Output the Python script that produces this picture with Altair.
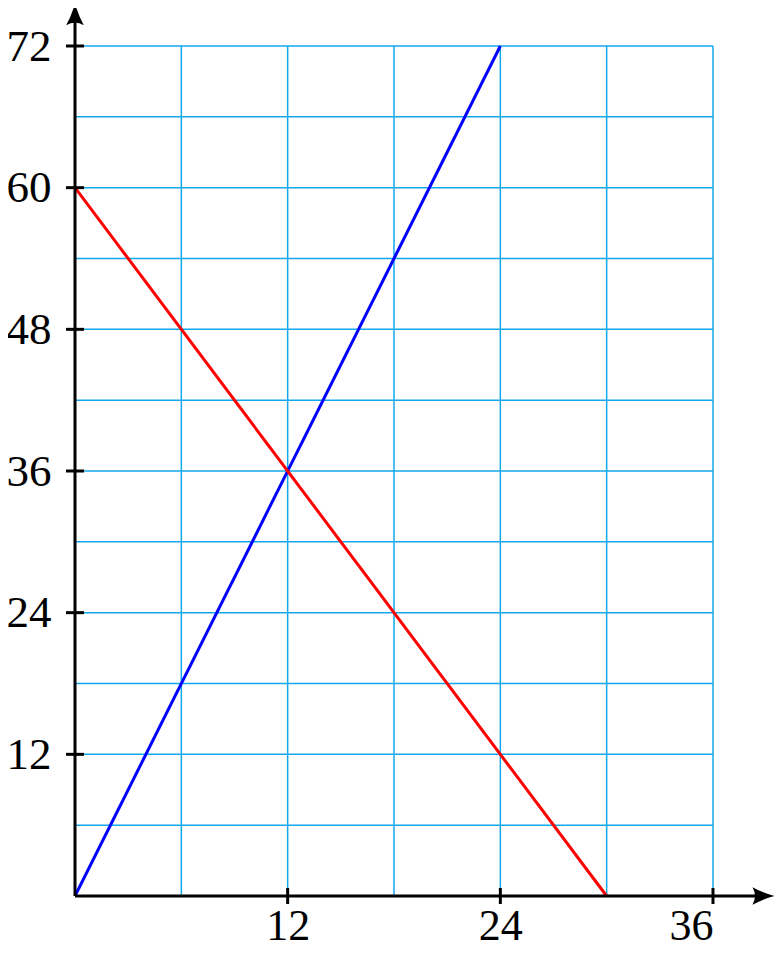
import altair as alt
import pandas as pd

# Data
blue_x = [0, 24]
blue_y = [0, 72]
red_x = [0, 30]
red_y = [60, 0]
grid_x = [6, 12, 18, 24, 30, 36]
grid_y = [6, 12, 18, 24, 30, 36, 42, 48, 54, 60, 66, 72]
xtick_vals = [12, 24, 36]
ytick_vals = [12, 24, 36, 48, 60, 72]
x_max, y_max = 36, 72
x_arrow, y_arrow = 38.85, 74.7

FONT = "Liberation Serif"
GRID = "#13A8EC"

xs = alt.Scale(domain=[0, x_max], nice=False, zero=False)
ys = alt.Scale(domain=[0, y_max], nice=False, zero=False)
xaxis = alt.Axis(
    values=xtick_vals, title=None, grid=False, ticks=False, domain=False,
    labelFont=FONT, labelFontSize=44, labelColor="black",
    labelPadding=8, labelBaseline="top")
yaxis = alt.Axis(
    values=ytick_vals, title=None, grid=False, ticks=False, domain=False,
    labelFont=FONT, labelFontSize=45, labelColor="black",
    labelPadding=24, labelBaseline="middle")

lines_df = pd.DataFrame({
    "x": blue_x + red_x,
    "y": blue_y + red_y,
    "s": ["blue"] * len(blue_x) + ["red"] * len(red_x),
})
gx_df = pd.DataFrame({"v": grid_x, "a": 0, "b": y_max})
gy_df = pd.DataFrame({"v": grid_y, "a": 0, "b": x_max})
xt_df = pd.DataFrame({"v": xtick_vals, "a": 0})
yt_df = pd.DataFrame({"v": ytick_vals, "a": 0})
xax_df = pd.DataFrame({"a": [0], "b": [x_arrow], "c": [0]})
yax_df = pd.DataFrame({"a": [0], "b": [y_arrow], "c": [0]})

grid_v = alt.Chart(gx_df).mark_rule(color=GRID, strokeWidth=1.5).encode(
    x=alt.X("v:Q", scale=xs, axis=xaxis),
    y=alt.Y("a:Q", scale=ys, axis=yaxis),
    y2="b:Q",
)
grid_h = alt.Chart(gy_df).mark_rule(color=GRID, strokeWidth=1.5).encode(
    y=alt.Y("v:Q", scale=ys, axis=yaxis),
    x=alt.X("a:Q", scale=xs, axis=xaxis),
    x2="b:Q",
)

lines = alt.Chart(lines_df).mark_line(strokeWidth=3, clip=False).encode(
    x=alt.X("x:Q", scale=xs, axis=xaxis),
    y=alt.Y("y:Q", scale=ys, axis=yaxis),
    color=alt.Color("s:N", scale=alt.Scale(domain=["blue", "red"], range=["#0000FF", "#FF0000"]), legend=None),
    detail="s:N",
)

x_axis_line = alt.Chart(xax_df).mark_rule(color="black", strokeWidth=3).encode(
    x=alt.X("a:Q", scale=xs, axis=xaxis), x2="b:Q", y=alt.Y("c:Q", scale=ys, axis=yaxis)
)
y_axis_line = alt.Chart(yax_df).mark_rule(color="black", strokeWidth=3).encode(
    y=alt.Y("a:Q", scale=ys, axis=yaxis), y2="b:Q", x=alt.X("c:Q", scale=xs, axis=xaxis)
)

xticks = alt.Chart(xt_df).mark_rule(color="black", strokeWidth=3, yOffset=-8, y2Offset=8).encode(
    x=alt.X("v:Q", scale=xs, axis=xaxis),
    y=alt.Y("a:Q", scale=ys, axis=yaxis), y2="a:Q",
)
yticks = alt.Chart(yt_df).mark_rule(color="black", strokeWidth=3, xOffset=-9, x2Offset=9).encode(
    y=alt.Y("v:Q", scale=ys, axis=yaxis),
    x=alt.X("a:Q", scale=xs, axis=xaxis), x2="a:Q",
)

right_head = "M 1 0 Q 0 0.25 -1 0.8 Q -0.55 0 -1 -0.8 Q 0 -0.25 1 0 Z"
up_head = "M 0 -1 Q 0.25 0 0.8 1 Q 0 0.55 -0.8 1 Q -0.25 0 0 -1 Z"

x_head = alt.Chart(xax_df).mark_point(
    shape=right_head, filled=True, color="black", opacity=1, size=484, strokeWidth=0
).encode(x=alt.X("b:Q", scale=xs, axis=xaxis), y=alt.Y("c:Q", scale=ys, axis=yaxis))
y_head = alt.Chart(yax_df).mark_point(
    shape=up_head, filled=True, color="black", opacity=1, size=484, strokeWidth=0
).encode(x=alt.X("c:Q", scale=xs, axis=xaxis), y=alt.Y("b:Q", scale=ys, axis=yaxis))

chart = alt.layer(
    grid_v, grid_h, lines, x_axis_line, y_axis_line, xticks, yticks, x_head, y_head
).properties(
    width=638, height=850,
    autosize="none",
    padding={"left": 67, "top": 38, "right": 62, "bottom": 50},
).configure_view(stroke=None)

chart.save("out.html", embed_options={"renderer": "svg", "actions": False})
